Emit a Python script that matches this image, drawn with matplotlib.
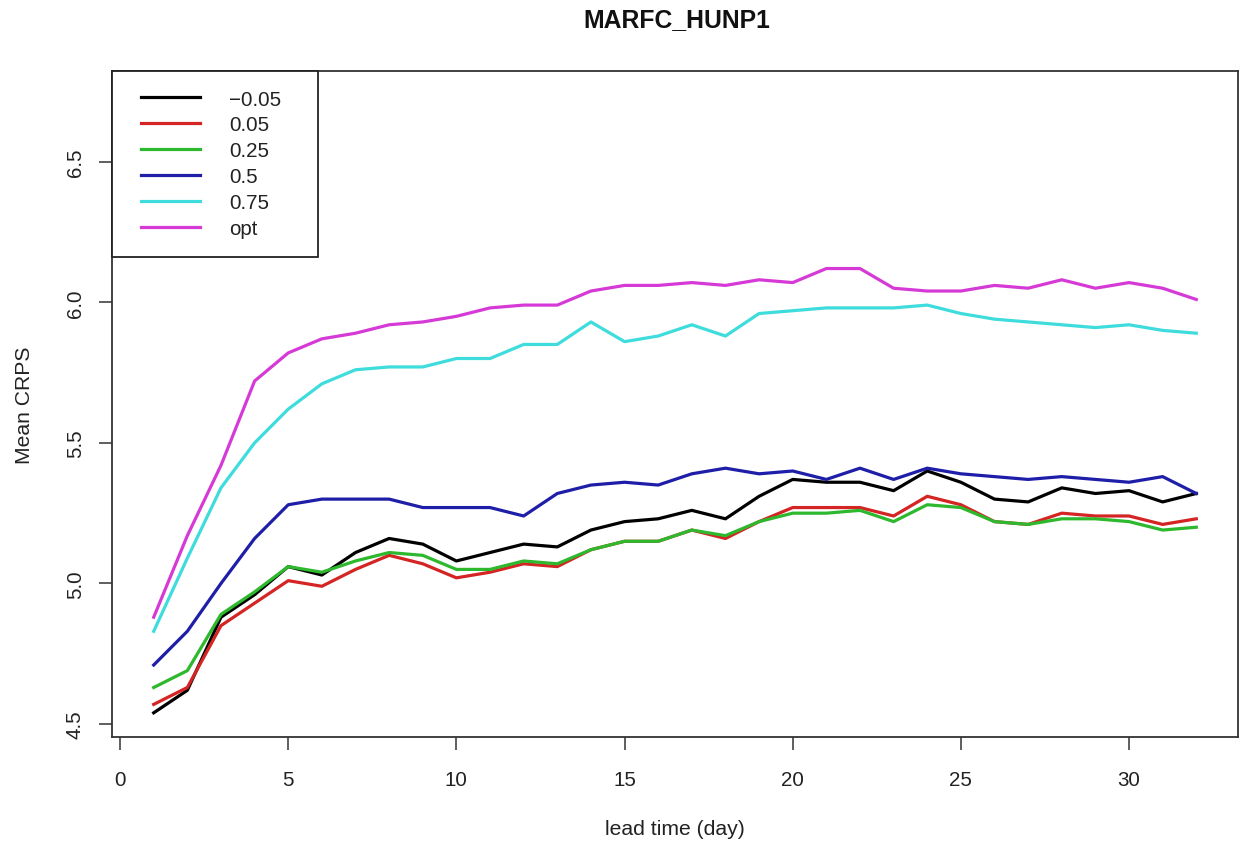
import matplotlib
matplotlib.use("Agg")
import matplotlib.pyplot as plt
from matplotlib.legend_handler import HandlerLine2D

plt.rcParams['font.family'] = ['Liberation Sans', 'DejaVu Sans']

days = list(range(1, 33))
labels = ["\u22120.05", "0.05", "0.25", "0.5", "0.75", "opt"]
colors = ["#000000", "#D42424", "#2DB82D", "#1E1EA8", "#3EDCDC", "#D63AD6"]

s_m005 = [4.54, 4.62, 4.88, 4.96, 5.06, 5.03, 5.11, 5.16, 5.14, 5.08, 5.11, 5.14, 5.13, 5.19, 5.22, 5.23,
          5.26, 5.23, 5.31, 5.37, 5.36, 5.36, 5.33, 5.40, 5.36, 5.30, 5.29, 5.34, 5.32, 5.33, 5.29, 5.32]
s_005 = [4.57, 4.63, 4.85, 4.93, 5.01, 4.99, 5.05, 5.10, 5.07, 5.02, 5.04, 5.07, 5.06, 5.12, 5.15, 5.15,
         5.19, 5.16, 5.22, 5.27, 5.27, 5.27, 5.24, 5.31, 5.28, 5.22, 5.21, 5.25, 5.24, 5.24, 5.21, 5.23]
s_025 = [4.63, 4.69, 4.89, 4.97, 5.06, 5.04, 5.08, 5.11, 5.10, 5.05, 5.05, 5.08, 5.07, 5.12, 5.15, 5.15,
         5.19, 5.17, 5.22, 5.25, 5.25, 5.26, 5.22, 5.28, 5.27, 5.22, 5.21, 5.23, 5.23, 5.22, 5.19, 5.20]
s_05 = [4.71, 4.83, 5.00, 5.16, 5.28, 5.30, 5.30, 5.30, 5.27, 5.27, 5.27, 5.24, 5.32, 5.35, 5.36, 5.35,
        5.39, 5.41, 5.39, 5.40, 5.37, 5.41, 5.37, 5.41, 5.39, 5.38, 5.37, 5.38, 5.37, 5.36, 5.38, 5.32]
s_075 = [4.83, 5.09, 5.34, 5.50, 5.62, 5.71, 5.76, 5.77, 5.77, 5.80, 5.80, 5.85, 5.85, 5.93, 5.86, 5.88,
         5.92, 5.88, 5.96, 5.97, 5.98, 5.98, 5.98, 5.99, 5.96, 5.94, 5.93, 5.92, 5.91, 5.92, 5.90, 5.89]
s_opt = [4.88, 5.17, 5.42, 5.72, 5.82, 5.87, 5.89, 5.92, 5.93, 5.95, 5.98, 5.99, 5.99, 6.04, 6.06, 6.06,
         6.07, 6.06, 6.08, 6.07, 6.12, 6.12, 6.05, 6.04, 6.04, 6.06, 6.05, 6.08, 6.05, 6.07, 6.05, 6.01]
series = [s_m005, s_005, s_025, s_05, s_075, s_opt]

xticks = [0, 5, 10, 15, 20, 25, 30]
yticks = [4.5, 5.0, 5.5, 6.0, 6.5]

W, H = 1243, 845
fig = plt.figure(figsize=(W / 100, H / 100), dpi=100)
ax = fig.add_axes([112 / W, 1 - 738 / H, (1238 - 112) / W, (738 - 72) / H])

for ys, c, lab in zip(series, colors, labels):
    ax.plot(days, ys, color=c, lw=2.3, label=lab, solid_joinstyle='round')

ax.set_xlim(-0.24, 33.24)
ax.set_ylim(4.454, 6.8225)
ax.set_xticks(xticks)
ax.set_yticks(yticks)
ax.set_xticklabels([str(t) for t in xticks])
ax.set_yticklabels([f"{t:.1f}" for t in yticks], rotation=90, va='center')
ax.tick_params(axis='both', direction='out', length=9.5, width=1.1, color='#333333',
               labelsize=14.8, labelcolor='#222222')
ax.tick_params(axis='x', pad=14)
ax.tick_params(axis='y', pad=10)
for sp in ax.spines.values():
    sp.set_linewidth(1.3)
    sp.set_color('#333333')

ax.set_xlabel("lead time (day)", fontsize=15.2, color='#222222')
ax.set_ylabel("Mean CRPS", fontsize=15.2, color='#222222')
ax.xaxis.set_label_coords(0.5, (738 - 830) / 666, transform=ax.transAxes)
ax.xaxis.label.set_va('center')
ax.yaxis.set_label_coords((25 - 112) / 1126, 0.5, transform=ax.transAxes)
ax.yaxis.label.set_va('center')

fig.text(677 / W, 1 - 20 / H, "MARFC_HUNP1", ha='center', va='center',
         fontsize=17.8, fontweight='bold', color='#111111')

leg = ax.legend(loc='upper left', bbox_to_anchor=(0, 1, (318 - 112) / 1126, 0), mode='expand',
                borderaxespad=0, fontsize=14.8, handlelength=3.9, handletextpad=0.9,
                labelspacing=0.34, borderpad=0.9, fancybox=False,
                handler_map={matplotlib.lines.Line2D: HandlerLine2D(marker_pad=0.5, numpoints=2)})
leg.get_frame().set_edgecolor('#222222')
leg.get_frame().set_linewidth(1.3)
leg.get_frame().set_alpha(1)
for t in leg.get_texts():
    t.set_color('#222222')

fig.savefig("out.png", dpi=100)
